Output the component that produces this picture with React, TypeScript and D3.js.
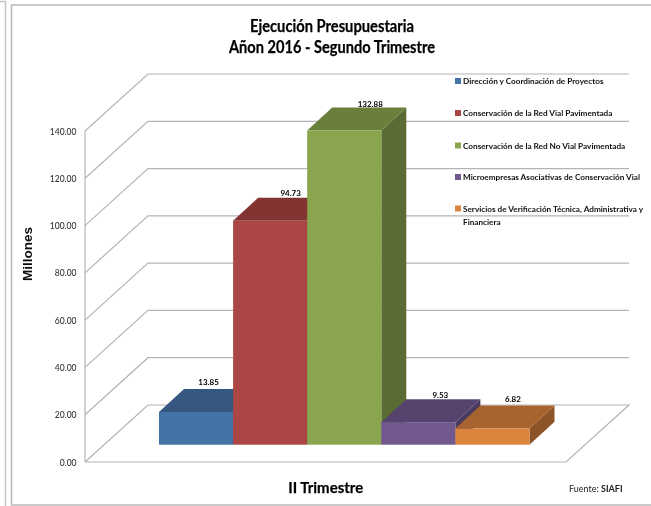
import React from "react";
import * as d3 from "d3";

const seriesNames = [
  "Dirección y Coordinación de Proyectos",
  "Conservación de la Red Vial Pavimentada",
  "Conservación de la Red No Vial Pavimentada",
  "Microempresas Asociativas de Conservación Vial",
  "Servicios de Verificación Técnica, Administrativa y",
];
const legendExtraLine = "Financiera";
const values = [13.85, 94.73, 132.88, 9.53, 6.82];
const valueLabels = ["13.85", "94.73", "132.88", "9.53", "6.82"];
const yTicks = [0, 20, 40, 60, 80, 100, 120, 140];
const frontColors = ["#4473A8", "#AA4643", "#89A54E", "#71588F", "#DB843D"];
const topColors = ["#355780", "#833432", "#6A7F3C", "#57446E", "#A8642F"];
const sideColors = ["#2E4C70", "#6F2C2A", "#5A6B33", "#4A3A5E", "#8D5428"];
const labelShift = [0, 8, 13.5, 9.5, 8];
const labelGap = [4, 1.5, 1, 1, 3.5];
const legendY = [81, 113, 145.5, 177, 208.5];

const FONT = "Lato, 'Open Sans', sans-serif";
const GRID = "#B4B4B4";

// floor & wall projection
const wallDx = 63;
const wallDy = -57;
const floorRight = 566;
const barDx = 25;
const barDy = -23;
const barBase = 444.7;

const y = d3.scaleLinear().domain([0, 140]).range([462, 131]);
const barIndex = d3.range(values.length);
const x = d3.scaleBand<number>().domain(barIndex).range([159, 529.5]);
const h = (v: number) => y(0) - y(v);
const poly = (pts: [number, number][]) => d3.line()(pts) + "Z";

export default function App() {
  const x0 = 85;
  const bw = x.bandwidth();
  return (
    <svg
      width={651}
      height={506}
      style={{ position: "absolute", left: 0, top: 0, background: "#fff" }}
      fontFamily={FONT}
    >
      <defs>
        <filter id="soft" x="-5%" y="-20%" width="110%" height="140%">
          <feGaussianBlur stdDeviation={0.28} />
        </filter>
      </defs>

      {/* frames */}
      <path d="M0 1.5H5.5V506" fill="none" stroke="#C4C4C4" strokeWidth={1.5} />
      <rect x={11.5} y={5} width={660} height={500} fill="#fff" stroke="#B8B8B8" strokeWidth={1.5} />

      {/* title */}
      <g
        textAnchor="middle"
        fontWeight={700}
        fontSize={16.5}
        fill="#000"
        stroke="#000"
        strokeWidth={0.25}
        filter="url(#soft)"
      >
        <text x={332} y={32} textLength={164} lengthAdjust="spacingAndGlyphs">
          Ejecución Presupuestaria
        </text>
        <text x={332} y={53} textLength={206} lengthAdjust="spacingAndGlyphs">
          Añon 2016 - Segundo Trimestre
        </text>
      </g>

      {/* walls */}
      <g fill="none" stroke={GRID} strokeWidth={1.2}>
        <line x1={x0} x2={x0} y1={y(140)} y2={y(0)} />
        {yTicks.map((t) => (
          <path
            key={t}
            d={
              t === 0
                ? d3.line()([
                    [x0, y(0)],
                    [x0 + wallDx, y(0) + wallDy],
                    [floorRight + wallDx, y(0) + wallDy],
                    [floorRight, y(0)],
                    [x0, y(0)],
                  ])!
                : d3.line()([
                    [x0, y(t)],
                    [x0 + wallDx, y(t) + wallDy],
                    [floorRight + wallDx, y(t) + wallDy],
                  ])!
            }
          />
        ))}
      </g>

      {/* y tick labels */}
      <g textAnchor="end" fontSize={8.5} fontWeight={500} fill="#333" filter="url(#soft)">
        {yTicks.map((t) => (
          <text key={t} x={76.5} y={y(t) + 3.6}>
            {d3.format(".2f")(t)}
          </text>
        ))}
      </g>
      <text
        transform="translate(32,254) rotate(-90)"
        textAnchor="middle"
        fontSize={12.5}
        fontWeight={700}
        fill="#111"
        fontFamily="'Liberation Sans', sans-serif"
        textLength={54}
        lengthAdjust="spacingAndGlyphs"
        filter="url(#soft)"
      >
        Millones
      </text>

      {/* bars */}
      {barIndex.map((i) => {
        const l = x(i)!;
        const r = l + bw;
        const t = barBase - h(values[i]);
        return (
          <g key={i}>
            <path
              d={poly([[r, t], [r + barDx, t + barDy], [r + barDx, barBase + barDy], [r, barBase]])}
              fill={sideColors[i]}
            />
            <path
              d={poly([[l, t], [l + barDx, t + barDy], [r + barDx, t + barDy], [r, t]])}
              fill={topColors[i]}
            />
            <rect x={l} y={t} width={bw} height={h(values[i])} fill={frontColors[i]} />
          </g>
        );
      })}

      {/* value labels */}
      <g textAnchor="middle" fontSize={8} fontWeight={700} fill="#000" filter="url(#soft)">
        {barIndex.map((i) => (
          <text
            key={i}
            x={x(i)! + bw / 2 + barDx / 2 + labelShift[i]}
            y={barBase - h(values[i]) + barDy - labelGap[i]}
          >
            {valueLabels[i]}
          </text>
        ))}
      </g>

      {/* legend */}
      <g fontSize={8.2} fontWeight={700} fill="#111">
        {seriesNames.map((n, i) => (
          <g key={n}>
            <rect x={455} y={legendY[i] - 3} width={6} height={6} fill={frontColors[i]} />
            <text x={463} y={legendY[i] + 3} filter="url(#soft)">{n}</text>
          </g>
        ))}
        <text x={463} y={225} filter="url(#soft)">{legendExtraLine}</text>
      </g>

      {/* axis title and source */}
      <text
        x={325.7}
        y={493}
        textAnchor="middle"
        fontSize={16}
        fontWeight={700}
        fill="#000"
        stroke="#000"
        strokeWidth={0.25}
        textLength={75}
        lengthAdjust="spacingAndGlyphs"
        filter="url(#soft)"
      >
        II Trimestre
      </text>
      <text x={569} y={492} fontSize={9} fill="#222" filter="url(#soft)">
        Fuente: <tspan fontWeight={700}>SIAFI</tspan>
      </text>
    </svg>
  );
}
